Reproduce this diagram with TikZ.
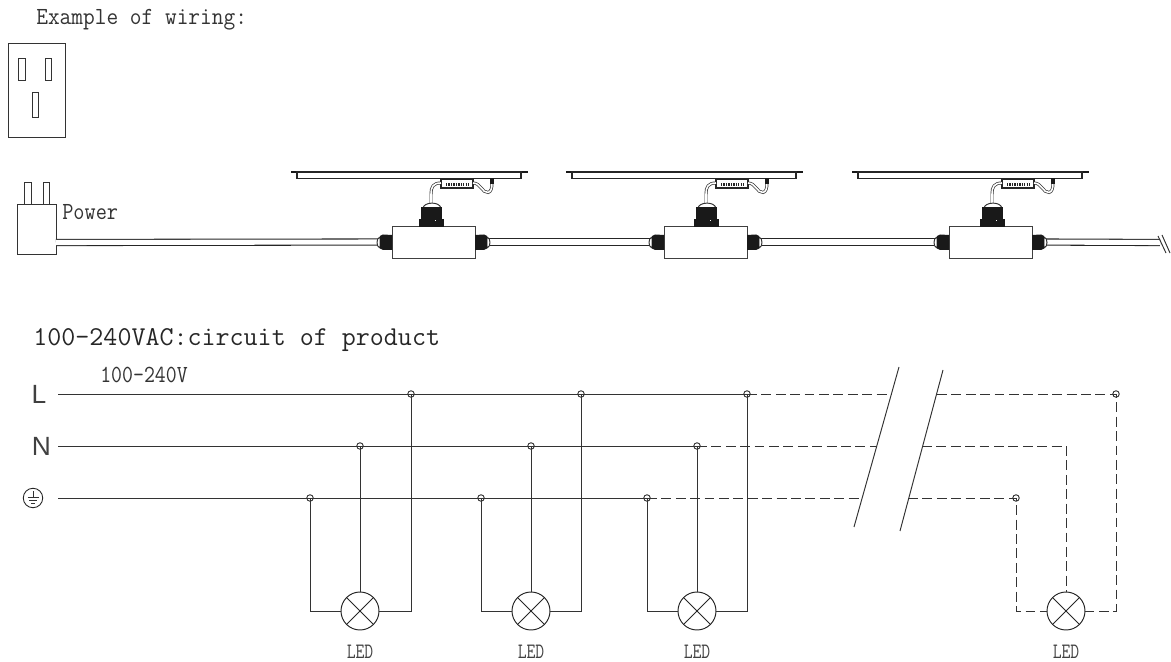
\documentclass[tikz,border=0pt]{standalone}
\usepackage{fontspec}
\newfontfamily\railfont{Liberation Sans}
\tikzset{
  note/.style={font=\ttfamily\fontsize{14}{14}\selectfont, text=black!80, inner sep=0pt, anchor=base west, xscale=0.88, transform shape},
  titlenote/.style={font=\ttfamily\fontsize{15.5}{15.5}\selectfont, text=black!85, inner sep=0pt, anchor=base west},
  ledtext/.style={font=\ttfamily\fontsize{12.5}{12.5}\selectfont, text=black!75, inner sep=0pt, xscale=0.78, transform shape},
  railtext/.style={font=\railfont\fontsize{15}{15}\selectfont, text=black!75, inner sep=0pt},
  wire/.style={line width=0.55pt, black!80},
  dashwire/.style={wire, dash pattern=on 5.6pt off 2.6pt},
  cord/.style={line width=0.6pt, double=white, double distance=2.9pt, black!85},
  jdot/.style={draw=black!85, line width=0.5pt, circle, inner sep=0pt, minimum size=0.13cm},
  lamp/.style={draw=black!85, line width=0.55pt, circle, inner sep=0pt, minimum size=0.76cm,
    path picture={\draw[black!85, line width=0.55pt] (path picture bounding box.north west) -- (path picture bounding box.south east)
      (path picture bounding box.north east) -- (path picture bounding box.south west);}},
  jbox/.style={draw=black!75, line width=0.45pt, fill=white, inner sep=0pt, minimum width=1.66cm, minimum height=0.64cm}
}
\begin{document}
\begin{tikzpicture}[x=0.02cm, y=-0.02cm]
    \useasboundingbox (0,0) rectangle (1171,662);

    % 标题
    \node[note, xscale=1.05] (wiringtitle) at (36,25) {Example of wiring:};
    \node[titlenote] (circuittitle) at (33,346) {100-240VAC:circuit of product};

    % 绘制插座
    \draw[wire] (8,43) rectangle (65,137);
    \draw[wire] (18.5,58) rectangle (25,80);
    \draw[wire] (45,58) rectangle (51,80);
    \draw[wire] (32.5,92) rectangle (38,117);

    % 绘制插头
    \draw[wire] (24.5,182) rectangle (31,204);
    \draw[wire] (43,182) rectangle (49.5,204);
    \draw[wire, fill=white] (17,204) rectangle (56,254);
    \coordinate (plugout) at (56,242.5);
    \node[note] (powertext) at (62,220) {Power};

    % 接线盒
    \node[jbox] (box1) at (433.5,242) {};
    \node[jbox] (box2) at (705.5,242) {};
    \node[jbox] (box3) at (990.5,242) {};

    % 电源线
    \coordinate (cordend) at (1160,242.5);
    \draw[cord] (plugout) -- (box1.west);
    \draw[cord] (box1.east) -- (box2.west);
    \draw[cord] (box2.east) -- (box3.west);
    \draw[cord] (box3.east) -- (cordend);
    \draw[wire] (1158,236) -- (1166,253);
    \draw[wire] (1162,235) -- (1170,253);

    % 防水接头
    \foreach \bx in {0,272,557} {
        \begin{scope}[shift={(\bx,0)}]
            \filldraw[wire, fill=white] (380,237) .. controls (376,238) and (376,247) .. (380,248) -- cycle;
            \fill[black!90] (380,236) -- (383,234.5) -- (392,235) -- (392,250) -- (383,250) -- (380,248.5) -- cycle;
            \filldraw[wire, fill=white] (487,237) .. controls (491,238) and (491,247) .. (487,248) -- cycle;
            \fill[black!90] (475,235) -- (484,234.5) -- (487,236) -- (487,248.5) -- (484,250) -- (475,250) -- cycle;
        \end{scope}
    }

    % 灯具
    \foreach \lx in {0,275,561} {
        \begin{scope}[shift={(\lx,0)}]
            \draw[black!90, line width=1.3pt] (291,172) -- (528,172);
            \draw[black!85, line width=1pt] (297,172) rectangle (521,178.5);
            \draw[black!85, line width=0.7pt, fill=white] (441,179) rectangle (473,188);
            \draw[black!85, line width=2pt, dash pattern=on 0.7pt off 0.7pt] (446,184.5) -- (469,184.5);
            \draw[black!80, line width=0.4pt, double=white, double distance=0.9pt] (441,183) .. controls (433,183) and (431,187) .. (431,194) -- (431,204);
            \draw[black!80, line width=0.4pt, double=white, double distance=0.9pt] (473,183) .. controls (481,183) and (482,193) .. (488,192.5) .. controls (491,192) and (492,188) .. (492,183);
            \fill[black!90] (490,178) rectangle (494,184);
            \filldraw[wire, fill=white] (423,208) .. controls (424,202) and (439,201) .. (441,208) -- cycle;
            \fill[black!90] (421,207) rectangle (442,219);
            \fill[black!90] (419,219) rectangle (444,227);
            \fill[white] (434.5,220.5) rectangle (435.5,221.5);
        \end{scope}
    }

    % 三根母线
    \node[railtext] (textl) at (39,394) {L};
    \node[railtext] (textn) at (41.5,446) {N};
    \node[draw=black!85, line width=0.5pt, circle, inner sep=0pt, minimum size=0.39cm] (texte) at (33,498) {};
    \draw[wire, line width=0.4pt] (33,491.5) -- (33,497) (27.5,497) -- (38.5,497) (29,500) -- (37,500) (31,503) -- (35,503);
    \node[note, xscale=0.98] (volttext) at (100,383) {100-240V};
    \coordinate (startl) at (58,394);
    \coordinate (startn) at (58,446);
    \coordinate (starte) at (58,498);

    % 前三盏灯
    \foreach \n/\ex/\nx/\lx in {1/310/360/411, 2/481/531/581, 3/647/697/747} {
        \node[jdot] (je\n) at (\ex,498) {};
        \node[jdot] (jn\n) at (\nx,446) {};
        \node[jdot] (jl\n) at (\lx,394) {};
        \node[lamp] (lamp\n) at (\nx,611) {};
        \node[ledtext] (led\n) at (\nx,652) {LED};
        \draw[wire] (je\n.center) |- (lamp\n);
        \draw[wire] (jn\n.center) -- (lamp\n);
        \draw[wire] (jl\n.center) |- (lamp\n);
    }
    \draw[wire] (startl) -- (jl3.center);
    \draw[wire] (startn) -- (jn3.center);
    \draw[wire] (starte) -- (je3.center);

    % 断开符号
    \coordinate (cutla) at (899,367);
    \coordinate (cutlb) at (854,527);
    \coordinate (cutra) at (943,370);
    \coordinate (cutrb) at (900,531);
    \draw[wire] (cutla) -- (cutlb);
    \draw[wire] (cutra) -- (cutrb);
    \coordinate (cutll) at (891.5,394);
    \coordinate (cutln) at (877,446);
    \coordinate (cutle) at (862,498);
    \coordinate (cutrl) at (937,394);
    \coordinate (cutrn) at (922,446);
    \coordinate (cutre) at (908,498);
    \draw[dashwire] (jl3.center) -- (cutll);
    \draw[dashwire] (jn3.center) -- (cutln);
    \draw[dashwire] (je3.center) -- (cutle);

    % 最后一盏灯
    \node[jdot] (je4) at (1016,498) {};
    \node[jdot] (jl4) at (1116,394) {};
    \coordinate (jn4) at (1066,446);
    \node[lamp] (lamp4) at (1066,611) {};
    \node[ledtext] (led4) at (1066,652) {LED};
    \draw[dashwire] (cutrl) -- (jl4.center) |- (lamp4);
    \draw[dashwire] (cutrn) -- (jn4) -- (lamp4);
    \draw[dashwire] (cutre) -- (je4.center) |- (lamp4);

\end{tikzpicture}
\end{document}
